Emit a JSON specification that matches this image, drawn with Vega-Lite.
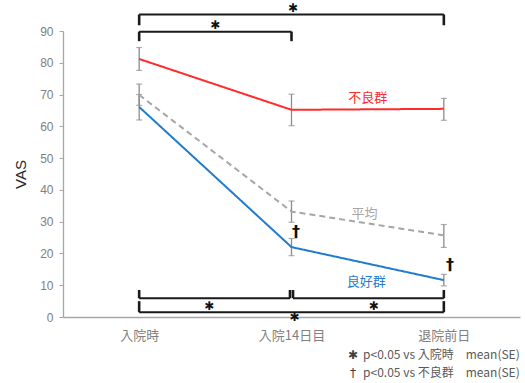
{
  "$schema": "https://vega.github.io/schema/vega-lite/v6.json",
  "width": 457,
  "height": 286,
  "autosize": "none",
  "padding": {"left": 63, "top": 31, "right": 5, "bottom": 66},
  "background": "white",
  "config": {
    "view": {"stroke": null},
    "font": "Liberation Sans, Noto Sans CJK JP",
    "text": {"font": "Liberation Sans, Noto Sans CJK JP"},
    "axisY": {"grid": false, "titleFontSize": 15, "titleFontWeight": "normal", "titleColor": "#262626", "titlePadding": 11,
      "labelFontSize": 12, "labelColor": "#808080", "labelPadding": 6, "tickSize": 4, "labelOverlap": false, "labelFlush": false,
      "tickColor": "#a6a6a6", "domainColor": "#a6a6a6", "domainWidth": 1.3}
  },
  "datasets": {
    "series": [
      {"t": 0, "g": "不良群", "m": 81.2, "lo": 77.6, "hi": 84.8},
      {"t": 1, "g": "不良群", "m": 65.2, "lo": 60.2, "hi": 70.1},
      {"t": 2, "g": "不良群", "m": 65.5, "lo": 61.9, "hi": 68.8},
      {"t": 0, "g": "平均", "m": 69.9, "lo": 66.6, "hi": 73.3},
      {"t": 1, "g": "平均", "m": 33.2, "lo": 29.8, "hi": 36.5},
      {"t": 2, "g": "平均", "m": 25.7, "lo": 21.9, "hi": 29.1},
      {"t": 0, "g": "良好群", "m": 66.1, "lo": 62.0, "hi": 70.0},
      {"t": 1, "g": "良好群", "m": 22.0, "lo": 19.3, "hi": 24.7},
      {"t": 2, "g": "良好群", "m": 11.6, "lo": 9.8, "hi": 13.4}
    ],
    "bh": [
      {"x": 0, "x2": 2, "y": 95.2},
      {"x": 0, "x2": 1, "y": 89.8},
      {"x": 0, "x2": 0.99, "y": 5.9},
      {"x": 1.01, "x2": 2, "y": 5.9},
      {"x": 0, "x2": 2, "y": 1.5}
    ],
    "bv": [
      {"x": 0, "y": 91.8, "y2": 95.2},
      {"x": 2, "y": 91.8, "y2": 95.2},
      {"x": 0, "y": 86.8, "y2": 89.8},
      {"x": 1, "y": 86.8, "y2": 89.8},
      {"x": 0, "y": 5.9, "y2": 8.5},
      {"x": 0.99, "y": 5.9, "y2": 8.5},
      {"x": 1.01, "y": 5.9, "y2": 8.5},
      {"x": 2, "y": 5.9, "y2": 8.5},
      {"x": 0, "y": 1.5, "y2": 5.0},
      {"x": 2, "y": 1.5, "y2": 5.0}
    ],
    "marks": [
      {"x": 1.01, "y": 97.2, "s": "✱"},
      {"x": 0.5, "y": 91.8, "s": "✱"},
      {"x": 0.46, "y": 3.5, "s": "✱"},
      {"x": 1.54, "y": 3.5, "s": "✱"},
      {"x": 1.02, "y": 0.0, "s": "✱"}
    ],
    "daggers": [
      {"x": 1.03, "y": 26.9, "s": "†"},
      {"x": 2.04, "y": 16.4, "s": "†"}
    ],
    "labels": [
      {"x": 1.5, "y": 68.9, "s": "不良群", "g": "不良群"},
      {"x": 1.48, "y": 32.4, "s": "平均", "g": "平均"},
      {"x": 1.49, "y": 11.1, "s": "良好群", "g": "良好群"}
    ],
    "legsym": [
      {"x": 1.404, "y": -12.0, "s": "✱"},
      {"x": 1.404, "y": -17.6, "s": "†"}
    ],
    "legtext": [
      {"x": 1.47, "y": -12.0, "s": "p<0.05 vs 入院時　mean(SE)"},
      {"x": 1.47, "y": -17.6, "s": "p<0.05 vs 不良群　mean(SE)"}
    ]
  },
  "layer": [
    {
      "data": {"name": "series"},
      "mark": {"type": "rule", "color": "#8c8c8c", "strokeWidth": 1.3},
      "encoding": {
        "x": {"field": "t", "type": "quantitative", "scale": {"domain": [-0.5, 2.5], "nice": false, "zero": false},
          "axis": {"values": [0, 1, 2], "ticks": false, "grid": false, "title": null, "labelOverlap": false,
            "labelExpr": "datum.value == 0 ? '入院時' : datum.value == 1 ? '入院14日目' : '退院前日'",
            "labelFontSize": 13, "labelColor": "#808080", "labelPadding": 12, "domainColor": "#a6a6a6", "domainWidth": 1.3,
            "labelFont": "Noto Sans CJK JP"}},
        "y": {"field": "lo", "type": "quantitative", "scale": {"domain": [0, 90], "nice": false},
          "axis": {"values": [0, 10, 20, 30, 40, 50, 60, 70, 80, 90], "title": "VAS"}},
        "y2": {"field": "hi"}
      }
    },
    {
      "data": {"name": "series"},
      "mark": {"type": "tick", "orient": "horizontal", "color": "#8c8c8c", "size": 6, "thickness": 1.2},
      "encoding": {
        "x": {"field": "t", "type": "quantitative"},
        "y": {"field": "lo", "type": "quantitative", "axis": {"values": [0, 10, 20, 30, 40, 50, 60, 70, 80, 90], "title": "VAS"}}
      }
    },
    {
      "data": {"name": "series"},
      "mark": {"type": "tick", "orient": "horizontal", "color": "#8c8c8c", "size": 6, "thickness": 1.2},
      "encoding": {
        "x": {"field": "t", "type": "quantitative"},
        "y": {"field": "hi", "type": "quantitative", "axis": {"values": [0, 10, 20, 30, 40, 50, 60, 70, 80, 90], "title": "VAS"}}
      }
    },
    {
      "data": {"name": "series"},
      "mark": {"type": "line", "strokeWidth": 2},
      "encoding": {
        "x": {"field": "t", "type": "quantitative"},
        "y": {"field": "m", "type": "quantitative", "axis": {"values": [0, 10, 20, 30, 40, 50, 60, 70, 80, 90], "title": "VAS"}},
        "color": {"field": "g", "type": "nominal", "legend": null,
          "scale": {"domain": ["不良群", "平均", "良好群"], "range": ["#ff2a2a", "#a6a6a6", "#1f7ccc"]}},
        "strokeDash": {"field": "g", "type": "nominal", "legend": null,
          "scale": {"domain": ["不良群", "平均", "良好群"], "range": [[1, 0], [6, 4], [1, 0]]}}
      }
    },
    {
      "data": {"name": "bh"},
      "mark": {"type": "rule", "color": "#1a1a1a", "strokeWidth": 2},
      "encoding": {
        "x": {"field": "x", "type": "quantitative"},
        "x2": {"field": "x2"},
        "y": {"field": "y", "type": "quantitative", "axis": {"values": [0, 10, 20, 30, 40, 50, 60, 70, 80, 90], "title": "VAS"}}
      }
    },
    {
      "data": {"name": "bv"},
      "mark": {"type": "rule", "color": "#1a1a1a", "strokeWidth": 2.6},
      "encoding": {
        "x": {"field": "x", "type": "quantitative"},
        "y": {"field": "y", "type": "quantitative", "axis": {"values": [0, 10, 20, 30, 40, 50, 60, 70, 80, 90], "title": "VAS"}},
        "y2": {"field": "y2"}
      }
    },
    {
      "data": {"name": "marks"},
      "mark": {"type": "text", "fontSize": 12, "fontWeight": "bold", "color": "#111111", "baseline": "middle", "align": "center", "font": "DejaVu Sans"},
      "encoding": {
        "x": {"field": "x", "type": "quantitative"},
        "y": {"field": "y", "type": "quantitative", "axis": {"values": [0, 10, 20, 30, 40, 50, 60, 70, 80, 90], "title": "VAS"}},
        "text": {"field": "s"}
      }
    },
    {
      "data": {"name": "daggers"},
      "mark": {"type": "text", "fontSize": 16, "fontWeight": "bold", "color": "#111111", "baseline": "middle", "align": "center", "font": "DejaVu Sans"},
      "encoding": {
        "x": {"field": "x", "type": "quantitative"},
        "y": {"field": "y", "type": "quantitative", "axis": {"values": [0, 10, 20, 30, 40, 50, 60, 70, 80, 90], "title": "VAS"}},
        "text": {"field": "s"}
      }
    },
    {
      "data": {"name": "labels"},
      "mark": {"type": "text", "fontSize": 13, "baseline": "middle", "align": "center", "font": "Noto Sans CJK JP"},
      "encoding": {
        "x": {"field": "x", "type": "quantitative"},
        "y": {"field": "y", "type": "quantitative", "axis": {"values": [0, 10, 20, 30, 40, 50, 60, 70, 80, 90], "title": "VAS"}},
        "text": {"field": "s"},
        "color": {"field": "g", "type": "nominal", "legend": null,
          "scale": {"domain": ["不良群", "平均", "良好群"], "range": ["#ff2a2a", "#595959", "#3d8fd8"]}}
      }
    },
    {
      "data": {"name": "legsym"},
      "mark": {"type": "text", "fontSize": 12, "color": "#404040", "baseline": "middle", "align": "center", "font": "DejaVu Sans"},
      "encoding": {
        "x": {"field": "x", "type": "quantitative"},
        "y": {"field": "y", "type": "quantitative", "axis": {"values": [0, 10, 20, 30, 40, 50, 60, 70, 80, 90], "title": "VAS"}},
        "text": {"field": "s"}
      }
    },
    {
      "data": {"name": "legtext"},
      "mark": {"type": "text", "fontSize": 12, "color": "#595959", "baseline": "middle", "align": "left", "font": "Noto Sans CJK JP"},
      "encoding": {
        "x": {"field": "x", "type": "quantitative"},
        "y": {"field": "y", "type": "quantitative", "axis": {"values": [0, 10, 20, 30, 40, 50, 60, 70, 80, 90], "title": "VAS"}},
        "text": {"field": "s"}
      }
    }
  ]
}
